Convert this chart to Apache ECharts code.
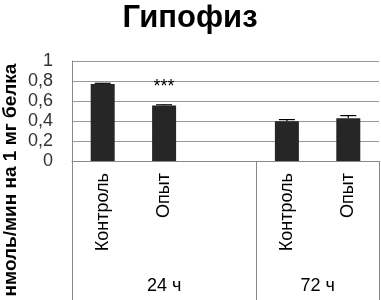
<!DOCTYPE html>
<html><head><meta charset="utf-8">
<script src="https://cdn.jsdelivr.net/npm/echarts@6/dist/echarts.min.js"></script>
<style>html,body{margin:0;padding:0;background:#fff}#c{width:381px;height:300px}</style>
</head><body><div id="c"></div>
<script>
const title = 'Гипофиз';
const yName = 'нмоль/мин на 1 мг белка';
const categories = ['Контроль', 'Опыт', '', 'Контроль', 'Опыт'];
const values = [0.77, 0.555, null, 0.397, 0.428];
const errors = [0.007, 0.007, null, 0.017, 0.026];
const significance = ['', '***', '', '', ''];
const groups = ['24 ч', '72 ч'];
const groupCenters = [1.5, 4];
const groupBounds = [0, 3, 5];
const yTicks = [0, 0.2, 0.4, 0.6, 0.8, 1];

const FONT = 'Liberation Sans';
const chart = echarts.init(document.getElementById('c'), null, {renderer: 'canvas'});
chart.setOption({
  animation: false,
  backgroundColor: '#fff',
  title: {text: title, left: 185, textAlign: 'center', top: -2,
    textStyle: {fontFamily: FONT, fontWeight: 'bold', fontSize: 31, color: '#000'}},
  grid: {left: 72, right: 2, top: 61, bottom: 139},
  graphic: [{type: 'text', rotation: Math.PI / 2, x: 1, y: 180,
    style: {text: yName, font: 'bold 19px "' + FONT + '"', fill: '#000', align: 'center', verticalAlign: 'top'}}],
  xAxis: [{
    type: 'category', data: categories, position: 'bottom',
    axisLine: {lineStyle: {color: '#888'}},
    axisTick: {length: 97, lineStyle: {color: '#888'}},
    axisLabel: {rotate: 90, margin: 12, fontFamily: FONT, fontSize: 18, color: '#000', interval: 0}
  }, {
    type: 'value', min: 0, max: 5, position: 'bottom',
    axisLine: {show: false}, splitLine: {show: false},
    axisTick: {show: true, customValues: groupBounds, length: 139, lineStyle: {color: '#888'}},
    axisLabel: {customValues: groupCenters, margin: 116, fontFamily: FONT, fontSize: 18, color: '#000',
      formatter: v => groups[groupCenters.indexOf(v)]}
  }],
  yAxis: {
    type: 'value', min: 0, max: 1, interval: 0.2,
    axisLine: {show: true, lineStyle: {color: '#888'}},
    axisTick: {show: false},
    splitLine: {lineStyle: {color: '#999'}},
    axisLabel: {margin: 19, fontFamily: FONT, fontSize: 18, color: '#333',
      formatter: v => String(Math.round(v * 10) / 10).replace('.', ',')}
  },
  series: [{
    type: 'bar', data: values, barWidth: 24, itemStyle: {color: '#262626'},
    label: {show: true, position: 'top', distance: 9, fontFamily: FONT, fontSize: 18, color: '#000',
      formatter: p => significance[p.dataIndex]}
  }, {
    type: 'custom',
    data: values.map((v, i) => [i, v, errors[i]]).filter(d => d[1] != null),
    renderItem: (params, api) => {
      const x = api.value(0), v = api.value(1), e = api.value(2);
      const b = api.coord([x, v]), t = api.coord([x, v + e]);
      const st = {stroke: '#000', lineWidth: 1.2};
      return {type: 'group', children: [
        {type: 'line', shape: {x1: b[0], y1: b[1], x2: t[0], y2: t[1]}, style: st},
        {type: 'line', shape: {x1: t[0] - 8, y1: t[1], x2: t[0] + 8, y2: t[1]}, style: st}
      ]};
    }
  }]
});
</script></body></html>
